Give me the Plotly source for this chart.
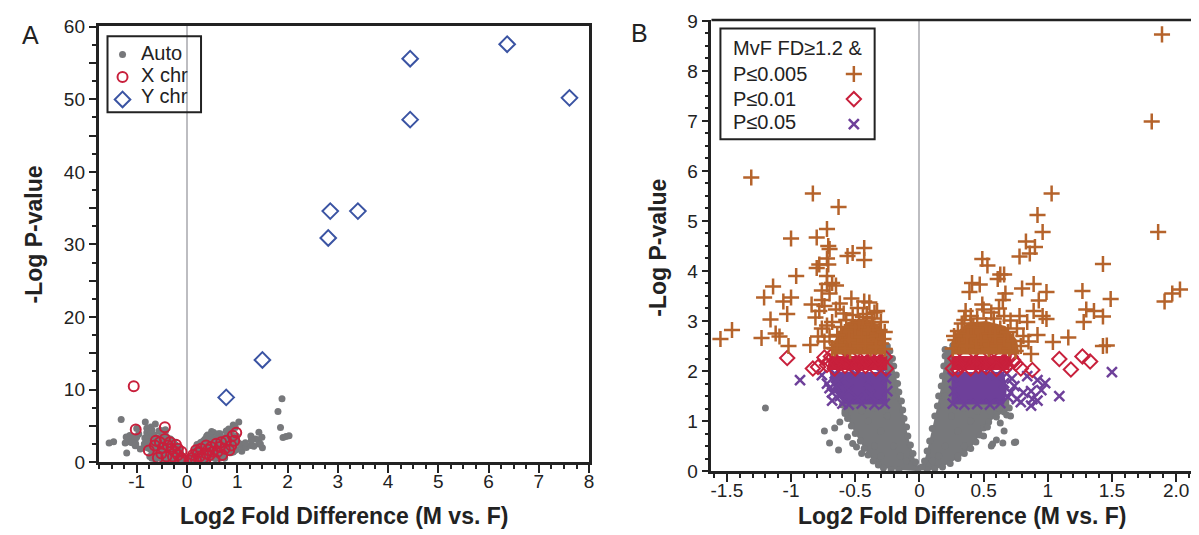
import plotly.graph_objects as go

FONT = "Liberation Sans, Arial, Helvetica, sans-serif"
GREY = "#77787b"
RED = "#c8203c"
BLUE = "#3b54a3"
ORANGE = "#b5632b"
PURPLE = "#6e409a"
ZERO = "#bdbdc1"
INK = "#222222"

# ---------------- Panel A: sex-chromosome genes ----------------
x_chr = [(-1.06, 10.48), (-1.02, 4.52), (-0.44, 4.83), (-0.76, 1.62), (-0.62, 2.95),
         (-0.64, 2.31), (-0.54, 2.75), (-0.44, 3.19), (-0.38, 2.31), (-0.31, 1.87),
         (-0.24, 1.43), (-0.18, 0.99), (-0.11, 0.55), (-0.51, 1.21), (-0.41, 0.77),
         (-0.28, 0.77), (-0.18, 1.87), (-0.34, 2.75), (-0.11, 1.43), (-0.08, 0.33),
         (-0.58, 0.60), (-0.48, 2.00), (-0.22, 2.40), (-0.14, 0.20),
         (0.12, 0.99), (0.18, 1.65), (0.28, 1.87), (0.38, 2.31), (0.48, 2.09),
         (0.58, 2.53), (0.68, 2.75), (0.78, 2.97), (0.91, 3.63), (0.94, 2.97),
         (0.88, 2.31), (0.75, 1.87), (0.61, 1.43), (0.45, 0.99), (0.32, 0.55),
         (0.18, 0.33), (0.09, 0.55), (0.51, 1.43), (0.38, 1.21), (0.25, 0.77),
         (0.05, 0.24), (0.84, 1.65), (0.98, 4.07), (0.55, 0.40), (0.70, 1.00),
         (0.22, 1.30), (0.42, 1.70), (0.65, 2.10)]
y_chr = [(0.78, 8.93), (1.50, 14.09), (2.81, 30.9), (2.85, 34.6), (3.40, 34.6),
         (4.44, 47.2), (4.44, 55.6), (6.37, 57.6), (7.61, 50.2)]

# ---------------- Panel B: autosomal genes by class ----------------
b_orange = [
    (-1.31, 5.87), (-0.83, 5.55), (-0.63, 5.28), (-0.72, 4.84), (-0.80, 4.67), (-1.00, 4.65),
    (-0.71, 4.50), (-0.70, 4.44), (-0.43, 4.46), (-0.52, 4.36), (-0.56, 4.30), (-0.43, 4.22),
    (-0.72, 4.25), (-0.78, 4.13), (-0.80, 4.06), (-0.71, 4.13), (-0.96, 3.90), (-1.14, 3.69),
    (-1.21, 3.47), (-1.00, 3.47), (-1.06, 3.39), (-1.03, 3.14), (-1.16, 3.03), (-1.12, 2.75),
    (-1.09, 2.69), (-1.23, 2.66), (-1.46, 2.82), (-1.55, 2.64), (-1.02, 2.50), (-0.85, 2.52),
    (-0.79, 2.69), (-0.81, 3.07), (-0.84, 3.33), (-0.76, 3.42), (-0.76, 3.61), (-0.72, 3.74),
    (-0.68, 3.76), (-0.65, 3.71), (-0.72, 3.90), (-0.53, 3.45), (-0.43, 3.39), (-0.39, 3.37),
    (-0.48, 3.26), (-0.35, 3.17), (-0.65, 3.23), (-0.68, 2.98), (-0.72, 2.91),
    (-0.74, 2.59), (-0.68, 2.46), (-0.70, 2.69), (-0.66, 2.45), (-0.62, 2.58), (-0.58, 2.78),
    (-0.55, 2.62), (-0.50, 2.88), (-0.47, 2.97), (-0.44, 3.08), (-0.40, 2.82), (-0.36, 2.93),
    (-0.33, 2.70), (-0.30, 2.55), (-0.27, 2.44), (-0.28, 2.64), (-0.52, 3.12), (-0.57, 3.02),
    (-0.61, 2.88), (-0.64, 2.72), (-0.41, 3.14), (-0.37, 3.05), (-0.31, 2.82), (-0.48, 2.50),
    (-0.54, 2.40), (-0.38, 2.45), (-0.45, 2.68), (-0.59, 3.15), (-0.62, 3.35), (-0.70, 3.55),
    (-0.74, 3.30), (-0.78, 3.20), (-0.76, 2.85), (-0.30, 2.98), (-0.33, 3.20), (-0.27, 2.78),
    (-0.42, 2.55), (-0.34, 2.48), (-0.58, 2.45), (-0.64, 2.52),
    (1.89, 8.73), (1.81, 6.99), (1.86, 4.78), (1.03, 5.55), (0.92, 5.12), (0.96, 4.78),
    (0.83, 4.59), (0.90, 4.48), (0.86, 4.35), (0.78, 4.29), (0.49, 4.24), (0.53, 4.11),
    (0.63, 3.93), (0.61, 3.84), (0.66, 3.93), (0.41, 3.76), (0.47, 3.73), (0.39, 3.58),
    (0.80, 3.65), (0.89, 3.74), (0.99, 3.58), (0.93, 3.41), (1.27, 3.60), (1.43, 4.14),
    (1.49, 3.44), (1.30, 3.23), (1.36, 3.20), (1.43, 3.09), (1.28, 2.98), (1.16, 2.67),
    (1.04, 2.58), (1.43, 2.50), (1.46, 2.51), (1.91, 3.39), (1.97, 3.55), (2.03, 3.63),
    (0.89, 3.20), (0.96, 3.10), (0.99, 3.04), (0.84, 2.98), (0.92, 2.72), (0.85, 2.59),
    (0.87, 2.34), (0.76, 2.85), (0.67, 3.55), (0.65, 3.42), (0.49, 3.33), (0.36, 3.20),
    (0.50, 3.23), (0.56, 3.17), (0.66, 3.10), (0.71, 3.01),
    (0.26, 2.45), (0.28, 2.62), (0.30, 2.80), (0.33, 2.95), (0.38, 2.70), (0.42, 2.88),
    (0.45, 3.05), (0.48, 2.60), (0.52, 2.92), (0.55, 2.75), (0.58, 3.05), (0.60, 2.55),
    (0.63, 2.85), (0.66, 2.65), (0.70, 2.45), (0.73, 2.60), (0.75, 2.40), (0.79, 2.50),
    (0.35, 3.02), (0.40, 3.10), (0.31, 2.52), (0.44, 2.48), (0.54, 2.44), (0.62, 3.25),
    (0.59, 2.70), (0.69, 2.78), (0.81, 2.70), (0.78, 3.10), (0.27, 2.70), (0.37, 2.50)]
b_red = [
    (-1.03, 2.26), (-0.83, 2.05), (-0.79, 2.08), (-0.74, 2.27), (-0.69, 2.29), (-0.72, 2.12),
    (-0.70, 2.20), (-0.66, 2.05), (-0.62, 2.25), (-0.58, 2.10), (-0.54, 2.28), (-0.50, 2.05),
    (-0.46, 2.20), (-0.42, 2.10), (-0.38, 2.25), (-0.34, 2.05), (-0.30, 2.18), (-0.27, 2.28),
    (-0.26, 2.05), (-0.64, 2.16), (-0.56, 2.19), (-0.48, 2.12), (-0.40, 2.18), (-0.32, 2.26),
    (0.63, 2.27), (0.71, 2.29), (0.79, 2.05), (0.88, 2.02), (1.09, 2.24), (1.18, 2.03),
    (1.27, 2.29), (1.33, 2.19), (0.75, 2.15), (0.68, 2.10), (0.66, 2.20), (0.26, 2.05),
    (0.28, 2.25), (0.32, 2.12), (0.36, 2.28), (0.40, 2.05), (0.44, 2.18), (0.48, 2.26),
    (0.52, 2.08), (0.56, 2.20), (0.60, 2.04), (0.73, 2.22), (0.30, 2.03), (0.46, 2.10)]
b_purple = [
    (-0.93, 1.82), (-0.76, 1.92), (-0.68, 1.57), (-0.68, 1.41), (-0.65, 1.70), (-0.72, 1.75),
    (-0.62, 1.50), (-0.60, 1.35), (-0.55, 1.33), (-0.45, 1.35), (-0.35, 1.33), (-0.27, 1.35),
    (-0.25, 1.60), (-0.26, 1.85), (-0.50, 1.95), (-0.40, 1.80), (-0.66, 1.95), (-0.58, 1.88),
    (-0.30, 1.96), (-0.55, 1.62), (-0.64, 1.82), (-0.70, 1.66), (-0.38, 1.52), (-0.48, 1.45),
    (0.66, 1.76), (0.74, 1.70), (0.76, 1.44), (0.81, 1.57), (0.87, 1.60), (0.92, 1.82),
    (0.98, 1.76), (1.09, 1.50), (1.50, 1.98), (0.79, 1.38), (0.87, 1.31), (0.92, 1.41),
    (0.71, 1.57), (0.88, 1.44), (0.26, 1.35), (0.27, 1.60), (0.26, 1.88), (0.35, 1.33),
    (0.45, 1.34), (0.55, 1.33), (0.63, 1.36), (0.68, 1.95), (0.60, 1.92), (0.72, 1.85),
    (0.84, 1.90), (0.95, 1.62), (0.69, 1.48), (0.50, 1.95)]
b_grey = [
    (-0.60, 1.32), (-0.58, 1.20), (-0.56, 1.05), (-0.53, 0.90), (-0.50, 0.75), (-0.46, 0.60),
    (-0.43, 0.45), (-0.40, 0.32), (-0.36, 0.20), (-0.32, 0.12), (-0.28, 0.06), (-0.22, 0.03),
    (-0.16, 0.02), (-0.01, 0.05), (-0.03, 0.18), (-0.05, 0.35), (-0.07, 0.52), (-0.09, 0.70),
    (-0.10, 0.88), (-0.12, 1.05), (-0.13, 1.22), (-0.14, 1.40), (-0.16, 1.58), (-0.17, 1.75),
    (-0.18, 1.92), (-0.20, 2.10), (-0.21, 2.25), (-0.23, 2.40), (-0.25, 2.50),
    (-1.20, 1.26), (-0.74, 0.80), (-0.70, 0.56), (-0.63, 0.42), (-0.56, 0.68), (-0.62, 0.98),
    (-0.66, 0.86), (-0.52, 0.55), (-0.49, 0.48), (-0.58, 1.15), (-0.45, 0.35),
    (-0.20, 0.50), (-0.30, 0.80), (-0.25, 1.10), (-0.40, 1.00), (-0.35, 0.50), (-0.15, 0.30),
    (-0.45, 1.20), (-0.20, 1.50), (-0.22, 1.90), (-0.30, 0.30), (-0.10, 0.20), (-0.35, 1.25),
    (0.06, 0.02), (0.12, 0.05), (0.18, 0.08), (0.24, 0.15), (0.30, 0.25), (0.35, 0.35),
    (0.40, 0.45), (0.44, 0.58), (0.47, 0.72), (0.50, 0.86), (0.54, 0.98), (0.60, 1.08),
    (0.66, 1.18), (0.70, 1.26), (0.71, 1.10),
    (0.57, 0.54), (0.65, 0.56), (0.75, 0.58), (0.53, 0.88), (0.50, 0.70), (0.66, 0.80),
    (0.63, 0.96), (0.68, 1.12), (0.74, 0.57), (0.60, 0.62), (0.56, 0.50),
    (0.02, 0.08), (0.04, 0.20), (0.06, 0.40), (0.08, 0.60), (0.10, 0.85), (0.12, 1.10),
    (0.14, 1.30), (0.15, 1.50), (0.17, 1.70), (0.18, 1.90), (0.19, 2.10), (0.20, 2.30),
    (0.20, 2.43), (0.26, 2.51),
    (0.20, 0.50), (0.30, 0.80), (0.25, 1.10), (0.40, 1.00), (0.35, 0.50), (0.15, 0.30),
    (0.45, 1.20), (0.20, 1.50), (0.22, 1.90), (0.30, 0.30), (0.10, 0.20), (0.35, 1.25),
    (0.55, 1.20), (0.62, 1.25)]

# outlines of the solidly packed cores of each class (data units)
grey_core_left = [(-0.02, 0.0), (-0.16, 0.02), (-0.28, 0.06), (-0.36, 0.20), (-0.43, 0.45),
                  (-0.50, 0.75), (-0.56, 1.05), (-0.60, 1.32), (-0.61, 1.45), (-0.27, 1.45),
                  (-0.27, 2.45), (-0.25, 2.50), (-0.23, 2.40), (-0.20, 2.10), (-0.17, 1.75),
                  (-0.13, 1.22), (-0.09, 0.70), (-0.05, 0.35), (-0.01, 0.05)]
grey_core_right = [(0.02, 0.05), (0.06, 0.40), (0.10, 0.85), (0.14, 1.30), (0.17, 1.70),
                   (0.19, 2.10), (0.20, 2.43), (0.25, 2.50), (0.27, 2.45), (0.27, 1.45),
                   (0.70, 1.45), (0.70, 1.26), (0.66, 1.18), (0.60, 1.08), (0.54, 0.98),
                   (0.47, 0.72), (0.40, 0.45), (0.30, 0.25), (0.18, 0.08), (0.06, 0.0)]
purple_core_left = [(-0.70, 1.98), (-0.25, 1.98), (-0.25, 1.33), (-0.58, 1.33), (-0.64, 1.50),
                    (-0.68, 1.75)]
purple_core_right = [(0.25, 1.33), (0.66, 1.33), (0.68, 1.60), (0.66, 1.98), (0.25, 1.98)]
red_core_left = [(-0.72, 2.02), (-0.25, 2.02), (-0.25, 2.30), (-0.70, 2.30)]
red_core_right = [(0.25, 2.02), (0.70, 2.02), (0.72, 2.30), (0.25, 2.30)]
orange_core_left = [(-0.68, 2.33), (-0.26, 2.33), (-0.26, 2.62), (-0.30, 2.88), (-0.38, 3.02),
                    (-0.47, 3.05), (-0.56, 2.98), (-0.63, 2.78), (-0.68, 2.50)]
orange_core_right = [(0.25, 2.33), (0.78, 2.33), (0.76, 2.62), (0.67, 2.90), (0.52, 3.00),
                     (0.38, 2.97), (0.29, 2.78), (0.25, 2.55)]

xa_ticks = [-1, 0, 1, 2, 3, 4, 5, 6, 7, 8]
ya_ticks = [0, 5, 10, 15, 20, 25, 30, 35, 40, 45, 50, 55, 60]
xb_ticks = [-1.5, -1, -0.5, 0, 0.5, 1, 1.5, 2]
xb_labels = ["-1.5", "-1", "-0.5", "0", "0.5", "1", "1.5", "2.0"]
yb_ticks = [0, 1, 2, 3, 4, 5, 6, 7, 8, 9]


def xs(pts):
    return [p[0] for p in pts]


def ys(pts):
    return [p[1] for p in pts]


auto_pts = b_grey + b_purple + b_red + b_orange

fig = go.Figure()

# ---- panel A ----
fig.add_trace(go.Scatter(x=xs(auto_pts), y=ys(auto_pts), mode="markers", name=" ",
                         legend="legend", legendrank=1,
                         marker=dict(symbol="circle", size=7, color=GREY),
                         xaxis="x", yaxis="y"))
fig.add_trace(go.Scatter(x=xs(x_chr), y=ys(x_chr), mode="markers", name="  ",
                         legend="legend", legendrank=2,
                         marker=dict(symbol="circle-open", size=10, color=RED,
                                     line=dict(width=2, color=RED)),
                         xaxis="x", yaxis="y"))
fig.add_trace(go.Scatter(x=xs(y_chr), y=ys(y_chr), mode="markers", name="   ",
                         legend="legend", legendrank=3,
                         marker=dict(symbol="diamond-open", size=12, color=BLUE,
                                     line=dict(width=2, color=BLUE)),
                         xaxis="x", yaxis="y"))


def core(pts, color):
    fig.add_trace(go.Scatter(x=xs(pts), y=ys(pts), fill="toself", mode="none",
                             fillcolor=color, showlegend=False, hoverinfo="skip",
                             xaxis="x2", yaxis="y2"))


# ---- panel B ----
core(grey_core_left, GREY)
core(grey_core_right, GREY)
fig.add_trace(go.Scatter(x=xs(b_grey), y=ys(b_grey), mode="markers", showlegend=False,
                         marker=dict(symbol="circle", size=7, color=GREY),
                         xaxis="x2", yaxis="y2"))
core(purple_core_left, PURPLE)
core(purple_core_right, PURPLE)
fig.add_trace(go.Scatter(x=xs(b_purple), y=ys(b_purple), mode="markers", name="    ",
                         legend="legend2", legendrank=3,
                         marker=dict(symbol="x-thin", size=10, color=PURPLE,
                                     line=dict(width=2.5, color=PURPLE)),
                         xaxis="x2", yaxis="y2"))
core(red_core_left, RED)
core(red_core_right, RED)
fig.add_trace(go.Scatter(x=xs(b_red), y=ys(b_red), mode="markers", name="     ",
                         legend="legend2", legendrank=2,
                         marker=dict(symbol="diamond-open", size=11, color=RED,
                                     line=dict(width=2, color=RED)),
                         xaxis="x2", yaxis="y2"))
core(orange_core_left, ORANGE)
core(orange_core_right, ORANGE)
fig.add_trace(go.Scatter(x=xs(b_orange), y=ys(b_orange), mode="markers", name="      ",
                         legend="legend2", legendrank=1,
                         marker=dict(symbol="cross-thin", size=11.5, color=ORANGE,
                                     line=dict(width=2.5, color=ORANGE)),
                         xaxis="x2", yaxis="y2"))

W, H = 1199, 535


def px(v):
    return v / W


def py(v):
    return 1 - v / H


tickfont = dict(family=FONT, size=19, color=INK)
common = dict(showgrid=False, showline=True, linecolor=INK, linewidth=2.5,
              ticks="outside", tickcolor=INK, tickwidth=2, tickfont=tickfont,
              ticklabeloverflow="allow")

fig.update_layout(
    width=W, height=H, autosize=False,
    margin=dict(l=0, r=0, t=0, b=0),
    plot_bgcolor="white", paper_bgcolor="white",
    font=dict(family=FONT, size=19, color=INK),
    xaxis=dict(domain=[px(90), px(583)], range=[-1.76, 8.0], anchor="y",
               tickvals=xa_ticks, ticktext=[str(v) for v in xa_ticks], ticklen=8,
               ticklabelstandoff=-8,
               mirror=True, zeroline=True, zerolinecolor=ZERO, zerolinewidth=2.2,
               minor=dict(ticks="outside", dtick=0.25, tick0=0, ticklen=4, tickwidth=1.5,
                          tickcolor=INK, showgrid=False), **common),
    yaxis=dict(domain=[py(462.5), py(9)], range=[0, 60.15], anchor="x",
               tickvals=ya_ticks, ticktext=[str(v) if v % 10 == 0 else "" for v in ya_ticks],
               ticklen=7, mirror=True, zeroline=False,
               minor=dict(ticks="outside", dtick=2.5, tick0=0, ticklen=4, tickwidth=1.5,
                          tickcolor=INK, showgrid=False), **common),
    xaxis2=dict(domain=[px(706), px(1197.5)], range=[-1.62, 2.19], anchor="y2",
                tickvals=xb_ticks, ticktext=xb_labels, ticklen=8,
                ticklabelstandoff=-8,
                mirror=False, zeroline=True, zerolinecolor=ZERO, zerolinewidth=2.2,
                minor=dict(ticks="outside", dtick=0.1, tick0=0, ticklen=4, tickwidth=1.5,
                           tickcolor=INK, showgrid=False), **common),
    yaxis2=dict(domain=[py(471.7), py(3)], range=[0, 9.02], anchor="x2",
                tickvals=yb_ticks, ticktext=[str(v) for v in yb_ticks], ticklen=7,
                mirror=False, zeroline=False,
                minor=dict(ticks="outside", dtick=0.25, tick0=0, ticklen=4, tickwidth=1.5,
                           tickcolor=INK, showgrid=False), **common),
    legend=dict(x=px(94), y=py(22), xanchor="left", yanchor="top",
                bgcolor="rgba(0,0,0,0)", borderwidth=0, font=dict(size=15),
                itemwidth=30, tracegroupgap=0, traceorder="normal"),
    legend2=dict(x=px(829), y=py(41), xanchor="left", yanchor="top",
                 bgcolor="rgba(0,0,0,0)", borderwidth=0, font=dict(size=17),
                 itemwidth=30, tracegroupgap=0, traceorder="normal"),
)

shapes = [
    # legend boxes
    dict(type="rect", xref="paper", yref="paper", x0=px(99), x1=px(193), y0=py(99), y1=py(20),
         line=dict(color=INK, width=2), fillcolor="rgba(255,255,255,0)", layer="above"),
    dict(type="rect", xref="paper", yref="paper", x0=px(715), x1=px(870), y0=py(127), y1=py(12),
         line=dict(color=INK, width=2), fillcolor="rgba(255,255,255,0)", layer="above"),
    # panel B frame: top dark, right light
    dict(type="line", xref="x2 domain", yref="y2 domain", x0=0, x1=1, y0=1, y1=1,
         line=dict(color=INK, width=2.5)),
    dict(type="line", xref="x2 domain", yref="y2 domain", x0=1, x1=1, y0=0, y1=1,
         line=dict(color="#9a9a9a", width=1.2)),
]
fig.update_layout(shapes=shapes)


def ann(text, x, y, size=20, bold=False, angle=0, anchor="left", color=INK):
    t = f"<b>{text}</b>" if bold else text
    return dict(text=t, x=px(x), y=py(y), xref="paper", yref="paper", showarrow=False,
                xanchor=anchor, yanchor="middle", textangle=angle,
                font=dict(family=FONT, size=size, color=color))


annotations = [
    ann("A", 22, 19, size=25, anchor="center"),
    ann("B", 634, 17, size=25, anchor="center"),
    ann("Log2 Fold Difference (M vs. F)", 336.5, 518, size=23, bold=True, anchor="center"),
    ann("Log2 Fold Difference (M vs. F)", 958, 518, size=23, bold=True, anchor="center"),
    ann("-Log P-value", 25, 226, size=23, bold=True, angle=-90, anchor="center"),
    ann("-Log P-value", 652, 240, size=23, bold=True, angle=-90, anchor="center"),
    ann("Auto", 131, 37, size=20),
    ann("X chr", 131, 60, size=20),
    ann("Y chr", 131, 82, size=20),
    ann("MvF FD≥1.2 &", 726, 32, size=20),
    ann("P≤0.005", 726, 59, size=20),
    ann("P≤0.01", 726, 85, size=20),
    ann("P≤0.05", 726, 109, size=20),
]
fig.update_layout(annotations=annotations)

fig.write_html("out.html")
